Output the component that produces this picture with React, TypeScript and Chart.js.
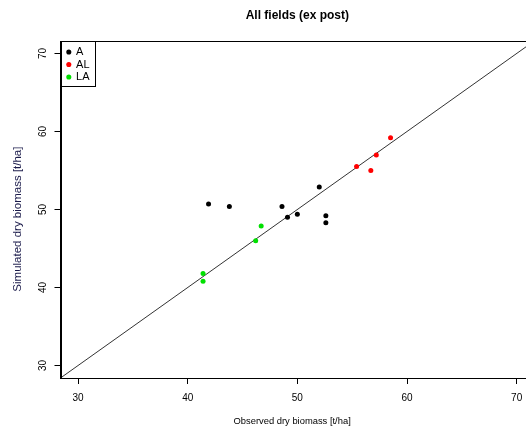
import React, { useEffect, useRef } from "react";
import { Chart, registerables } from "chart.js";

Chart.register(...registerables);

// ---- data ----
const groupNames = ["A", "AL", "LA"];
const groupColors = ["#000000", "#FF0000", "#00E000"];

const observedA = [41.9, 43.8, 48.6, 52.0, 49.1, 50.0, 52.6, 52.6];
const simulatedA = [50.7, 50.4, 50.4, 52.9, 49.0, 49.4, 49.2, 48.3];

const observedAL = [58.5, 57.2, 55.4, 56.7];
const simulatedAL = [59.2, 57.0, 55.5, 55.0];

const observedLA = [46.7, 41.4, 41.4, 46.2];
const simulatedLA = [47.9, 41.8, 40.8, 46.0];

const xTickValues = [30, 40, 50, 60, 70];
const yTickValues = [30, 40, 50, 60, 70];
const axisMin = 28.4;
const axisMax = 71.6;

const titleText = "All fields (ex post)";
const xTitle = "Observed dry biomass [t/ha]    ";
const yTitle = "Simulated dry biomass [t/ha]      ";

const FONT = "'Liberation Sans', Arial, Helvetica, sans-serif";

function zip(xs: number[], ys: number[]) {
  return xs.map((x, i) => ({ x, y: ys[i] }));
}

const frameBox = {
  id: "frameBox",
  afterLayout(chart: any) {
    const lg = chart.legend;
    if (lg) {
      lg.left = chart.chartArea.left + 5;
      lg.top = chart.chartArea.top + 4;
    }
  },
  afterDraw(chart: any) {
    const { ctx, chartArea } = chart;
    const l = Math.round(chartArea.left) + 0.5;
    const t = Math.round(chartArea.top) + 0.5;
    const r = Math.round(chartArea.right) + 0.5;
    const b = Math.round(chartArea.bottom) + 0.5;
    ctx.save();
    ctx.strokeStyle = "#000";
    ctx.lineWidth = 1;
    ctx.strokeRect(l, t, r - l, b - t);
    // legend frame
    const lg = chart.legend;
    if (lg && lg.legendHitBoxes && lg.legendHitBoxes.length) {
      let maxR = 0;
      let maxB = 0;
      lg.legendHitBoxes.forEach((hb: any) => {
        maxR = Math.max(maxR, hb.left + hb.width);
        maxB = Math.max(maxB, hb.top + hb.height);
      });
      const rr = Math.round(maxR + 5) + 0.5;
      const bb = Math.round(maxB + 3) + 0.5;
      ctx.strokeRect(l, t, rr - l, bb - t);
    }
    ctx.restore();
  },
};

export default function App() {
  const ref = useRef<HTMLCanvasElement | null>(null);

  useEffect(() => {
    if (!ref.current) return;
    Chart.defaults.font.family = FONT;
    const pointDs = (i: number, xs: number[], ys: number[]) => ({
      type: "scatter" as const,
      label: groupNames[i],
      data: zip(xs, ys),
      backgroundColor: groupColors[i],
      borderColor: groupColors[i],
      borderWidth: 0,
      pointStyle: "circle",
      pointRadius: 2.5,
      pointHoverRadius: 2.5,
    });
    const chart = new Chart(ref.current, {
      type: "scatter",
      data: {
        datasets: [
          pointDs(0, observedA, simulatedA),
          pointDs(1, observedAL, simulatedAL),
          pointDs(2, observedLA, simulatedLA),
          {
            type: "line",
            label: "1:1",
            data: [
              { x: axisMin, y: axisMin },
              { x: axisMax, y: axisMax },
            ],
            borderColor: "#333333",
            borderWidth: 1,
            pointRadius: 0,
            fill: false,
          } as any,
        ],
      },
      options: {
        responsive: false,
        animation: false,
        devicePixelRatio: 1,
        layout: { padding: { top: 0, right: 5.8, bottom: 0, left: 0 } },
        plugins: {
          title: {
            display: true,
            text: titleText,
            fullSize: false,
            color: "#000",
            font: { family: FONT, size: 12, weight: "bold" },
            padding: { top: 8.5, bottom: 18.1 },
          },
          legend: {
            display: true,
            position: "chartArea" as any,
            align: "start",
            labels: {
              usePointStyle: true,
              boxWidth: 3.6,
              boxHeight: 3.6,
              padding: 1.5,
              color: "#000",
              font: { family: FONT, size: 11 },
              filter: (item: any) => item.text !== "1:1",
            },
          },
          tooltip: { enabled: false },
        },
        scales: {
          x: {
            type: "linear",
            min: axisMin,
            max: axisMax,
            afterBuildTicks: (s: any) => {
              s.ticks = xTickValues.map((v) => ({ value: v }));
            },
            afterFit: (s: any) => {
              s.height = 52;
            },
            grid: {
              drawOnChartArea: false,
              drawTicks: true,
              tickLength: 6,
              tickColor: "#000",
            },
            border: { display: true, color: "#000", width: 1 },
            ticks: {
              color: "#000",
              font: { family: FONT, size: 10 },
              padding: 8.5,
              autoSkip: false,
              maxRotation: 0,
              minRotation: 0,
              includeBounds: false,
            },
            title: {
              display: true,
              text: xTitle,
              color: "#000",
              font: { family: FONT, size: 9.4 },
              padding: { top: 0, bottom: 3 },
            },
          },
          y: {
            type: "linear",
            min: axisMin,
            max: axisMax,
            afterBuildTicks: (s: any) => {
              s.ticks = yTickValues.map((v) => ({ value: v }));
            },
            afterFit: (s: any) => {
              s.width = 60.5;
            },
            grid: {
              drawOnChartArea: false,
              drawTicks: true,
              tickLength: 6,
              tickColor: "#000",
            },
            border: { display: true, color: "#000", width: 1 },
            ticks: {
              color: "#000",
              font: { family: FONT, size: 10 },
              padding: 6,
              autoSkip: false,
              minRotation: 90,
              maxRotation: 90,
              crossAlign: "center",
              includeBounds: false,
            },
            title: {
              display: true,
              text: yTitle,
              color: "#1a1a4a",
              font: { family: FONT, size: 11.5 },
              padding: { top: 10.5, bottom: 0 },
            },
          },
        },
      },
      plugins: [frameBox],
    } as any);
    return () => chart.destroy();
  }, []);

  return (
    <div
      style={{
        position: "fixed",
        left: 0,
        top: 0,
        width: 526,
        height: 430,
        overflow: "hidden",
        background: "#fff",
      }}
    >
      <canvas
        ref={ref}
        width={540}
        height={430}
        style={{ display: "block", width: 540, height: 430 }}
      />
    </div>
  );
}
